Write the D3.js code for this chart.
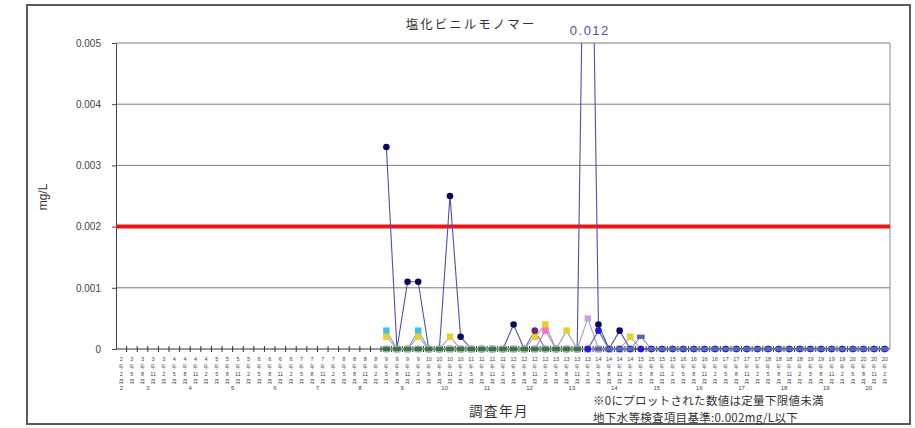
<!DOCTYPE html>
<html><head><meta charset="utf-8">
<script src="https://cdn.jsdelivr.net/npm/d3@7"></script>
<style>
html,body{margin:0;padding:0;background:#fff;}
svg{display:block;}
</style></head>
<body>
<svg id="chart" width="915" height="428"></svg>
<script>
// ---------- data ----------
const title = "塩化ビニルモノマー";
const yTitle = "mg/L";
const xTitle = "調査年月";
const note1 = "※0にプロットされた数値は定量下限値未満";
const note2 = "地下水等検査項目基準:0.002mg/L以下";
const peakLabel = "0.012";
const standardValue = 0.002;
const yTicks = [0, 0.001, 0.002, 0.003, 0.004, 0.005];

// survey years (group labels) and months per year
const surveyYears = ["2","3","4","5","6","7","8","9","10","11","12","13","14","15","16","17","18","19","20"];
const yearMonths = [["2"],["5","8","11","2"],["5","8","11","2"],["5","8","11","2"],["5","8","11","2"],["5","8","11","2"],["5","8","11","2"],["5","8","11","2"],["5","8","11","2"],["5","8","11","2"],["5","8","11","2"],["5","8","11","2"],["5","8","11","2"],["5","8","11","2"],["5","8","11","2"],["5","8","11","2"],["5","8","11","2"],["5","8","11","2"],["5","8","11","2"]];

// series values (null = not surveyed), 73 survey dates
const _ = null;
const wellA = [_,_,_,_,_,_,_,_,_,_, _,_,_,_,_,_,_,_,_,_, _,_,_,_,_,
  0.0033,0,0.0011,0.0011,0,0,0.0025,0.0002,0,0, 0,0,0.0004,0,0,0,0,0,0,0.012, 0.0004,0,0.0003,0,0,0,0,0,0,0, 0,0,0,0,0,0,0,0,0,0, 0,0,0,0,0,0,0,0];
const wellB = [_,_,_,_,_,_,_,_,_,_, _,_,_,_,_,_,_,_,_,_, _,_,_,_,_,
  0.0003,0,0,0.0003,0,0,0,0,0,0, 0,0,0,0,0,0,0,0,0,0, 0,0,0,0,_,_,_,_,_,_, _,_,_,_,_,_,_,_,_,_, _,_,_,_,_,_,_,_];
const wellC = [_,_,_,_,_,_,_,_,_,_, _,_,_,_,_,_,_,_,_,_, _,_,_,_,_,
  0.0002,0,0,0.0002,0,0,0.0002,0,0,0, 0,0,0,0,0.0002,0.0004,0,0.0003,0,0, 0,0,0,0.0002,0,_,_,_,_,_, _,_,_,_,_,_,_,_,_,_, _,_,_,_,_,_,_,_];
const wellD = [_,_,_,_,_,_,_,_,_,_, _,_,_,_,_,_,_,_,_,_, _,_,_,_,_,
  0,0,0,0,0,0,0,0,0,0, 0,0,0,0,0.0003,0,0,0,0,0, 0,_,_,_,_,_,_,_,_,_, _,_,_,_,_,_,_,_,_,_, _,_,_,_,_,_,_,_];
const wellE = [_,_,_,_,_,_,_,_,_,_, _,_,_,_,_,_,_,_,_,_, _,_,_,_,_,
  0,0,0,0,0,0,0,0,0,0, 0,0,0,0,0,0.0003,0,0,0,0, 0,_,_,_,_,_,_,_,_,_, _,_,_,_,_,_,_,_,_,_, _,_,_,_,_,_,_,_];
const wellF = [_,_,_,_,_,_,_,_,_,_, _,_,_,_,_,_,_,_,_,_, _,_,_,_,_,
  0,0,0,0,0,0,0,0,0,0, 0,0,0,0,0,0,0,0,0,0.0005, 0,0,0,_,_,_,_,_,_,_, _,_,_,_,_,_,_,_,_,_, _,_,_,_,_,_,_,_];
const wellG = [_,_,_,_,_,_,_,_,_,_, _,_,_,_,_,_,_,_,_,_, _,_,_,_,_,
  _,_,_,_,_,_,_,_,_,_, _,_,_,_,_,_,_,_,_,0, 0.0003,0,0,0,0,0,0,0,0,0, 0,0,0,0,0,0,0,0,0,0, 0,0,0,0,0,0,0,0];
const wellH = [_,_,_,_,_,_,_,_,_,_, _,_,_,_,_,_,_,_,_,_, _,_,_,_,_,
  0,0,0,0,0,0,0,0,0,0, 0,0,0,0,0,0,0,0,0,_, _,_,_,_,_,_,_,_,_,_, _,_,_,_,_,_,_,_,_,_, _,_,_,_,_,_,_,_];
const wellI = [_,_,_,_,_,_,_,_,_,_, _,_,_,_,_,_,_,_,_,_, _,_,_,_,_,
  _,_,_,_,_,_,_,_,_,_, _,_,_,_,_,_,_,_,_,_, 0,0,0,0,0.0002,0,0,0,0,0, 0,0,0,0,0,0,0,0,0,0, 0,0,0,0,0,0,0,0];

// ---------- build categories ----------
const categories = [];
const groups = [];
surveyYears.forEach((y, gi) => {
  const start = categories.length;
  yearMonths[gi].forEach(m => categories.push({key: y + "." + m, year: y, month: m}));
  groups.push({year: y, start, end: categories.length - 1});
});

const series = [
  {name: "A", values: wellA, color: "#0b0b5c", line: "#5050a6", shape: "circle"},
  {name: "B", values: wellB, color: "#3ec0f0", line: "#6aa0d8", shape: "square"},
  {name: "C", values: wellC, color: "#e9cf2c", line: "#9a9ac0", shape: "square"},
  {name: "D", values: wellD, color: "#7b1f7b", line: "#8a6aa8", shape: "circle"},
  {name: "E", values: wellE, color: "#ff6fc0", line: "#b08ac0", shape: "square"},
  {name: "F", values: wellF, color: "#c8a2ea", line: "#a89ad0", shape: "square"},
  {name: "G", values: wellG, color: "#1c1ce8", line: "#5a5ac8", shape: "circle"},
  {name: "H", values: wellH, color: "#2f7f3a", line: "#4fc04f", shape: "bar"},
  {name: "I", values: wellI, color: "#5668a8", line: "#7d8cc8", shape: "bar"}
];

// ---------- layout ----------
const svg = d3.select("#chart");
const L = 116, R = 890, T = 43, B = 349;

svg.append("rect").attr("x", 27).attr("y", 5).attr("width", 883).attr("height", 419)
  .attr("fill", "#fff").attr("stroke", "#5a5a5a").attr("stroke-width", 2);

const x = d3.scaleBand().domain(categories.map(d => d.key)).range([L, R]).paddingInner(0).paddingOuter(0);
const y = d3.scaleLinear().domain([0, 0.005]).range([B, T]);
const cx = i => x(categories[i].key) + x.bandwidth() / 2;

// gridlines
svg.append("g").selectAll("line").data(yTicks.filter(v => v > 0)).join("line")
  .attr("x1", L).attr("x2", R).attr("y1", d => y(d)).attr("y2", d => y(d))
  .attr("stroke", "#7a7a7a").attr("stroke-width", 1);
svg.append("line").attr("x1", R).attr("x2", R).attr("y1", T).attr("y2", B)
  .attr("stroke", "#8a8a8a").attr("stroke-width", 1);

// y axis
const yAxis = svg.append("g").attr("transform", `translate(${L},0)`)
  .call(d3.axisLeft(y).tickValues(yTicks).tickSize(4).tickSizeOuter(0)
    .tickFormat(d => d === 0 ? "0" : d3.format(".3f")(d)));
yAxis.select(".domain").attr("stroke", "#444");
yAxis.selectAll(".tick line").attr("stroke", "#444");
yAxis.selectAll("text").attr("font-family", "Liberation Sans, Arial, sans-serif")
  .attr("font-size", 10).attr("fill", "#444").attr("x", -15);

// standard line
svg.append("line").attr("x1", L).attr("x2", R).attr("y1", y(standardValue)).attr("y2", y(standardValue))
  .attr("stroke", "#ec1515").attr("stroke-width", 4);

// x axis line with cross ticks
svg.append("line").attr("x1", L).attr("x2", R).attr("y1", B).attr("y2", B).attr("stroke", "#333");
svg.append("g").selectAll("line").data(categories.slice(1)).join("line")
  .attr("x1", d => x(d.key)).attr("x2", d => x(d.key)).attr("y1", B - 3).attr("y2", B + 3)
  .attr("stroke", "#333").attr("stroke-width", 1);

// category labels: stacked rows (year / 年 / month / 月)
const labG = svg.append("g").attr("fill", "#444").attr("text-anchor", "middle");
const rowDefs = [
  {get: d => d.year, y: 361, font: "Liberation Sans, Arial, sans-serif", size: 5.5},
  {get: d => "年", y: 368.3, font: "Noto Sans CJK JP, sans-serif", size: 5},
  {get: d => d.month, y: 375.6, font: "Liberation Sans, Arial, sans-serif", size: 5.5},
  {get: d => "月", y: 382.9, font: "Noto Sans CJK JP, sans-serif", size: 5}
];
rowDefs.forEach(r => {
  labG.append("g").selectAll("text").data(categories).join("text")
    .attr("x", (d, i) => cx(i)).attr("y", r.y)
    .attr("font-family", r.font).attr("font-size", r.size)
    .text(r.get);
});

// group labels
svg.append("g").selectAll("text").data(groups).join("text")
  .attr("x", g => (cx(g.start) + cx(g.end)) / 2).attr("y", 390)
  .attr("text-anchor", "middle")
  .attr("font-family", "Liberation Sans, Arial, sans-serif").attr("font-size", 6)
  .attr("fill", "#444").text(g => g.year);

// clip
svg.append("clipPath").attr("id", "plotclip").append("rect")
  .attr("x", L - 6).attr("y", T).attr("width", R - L + 12).attr("height", B - T + 8);

const plot = svg.append("g").attr("clip-path", "url(#plotclip)");
const lineGen = d3.line().defined(d => d.v !== null).x(d => cx(d.i)).y(d => y(d.v));

series.forEach(s => {
  const pts = s.values.map((v, i) => ({i, v}));
  plot.append("path").datum(pts).attr("d", lineGen)
    .attr("fill", "none").attr("stroke", s.line).attr("stroke-width", 1.1);
});
series.forEach(s => {
  const pts = s.values.map((v, i) => ({i, v})).filter(d => d.v !== null);
  const g = plot.append("g");
  if (s.shape === "circle") {
    g.selectAll("circle").data(pts).join("circle")
      .attr("cx", d => cx(d.i)).attr("cy", d => y(d.v)).attr("r", 3.3).attr("fill", s.color);
  } else if (s.shape === "square") {
    g.selectAll("rect").data(pts).join("rect")
      .attr("x", d => cx(d.i) - 3.2).attr("y", d => y(d.v) - 3.2)
      .attr("width", 6.4).attr("height", 6.4).attr("fill", s.color);
  } else {
    g.selectAll("rect").data(pts).join("rect")
      .attr("x", d => cx(d.i) - 3.8).attr("y", d => y(d.v) - 2.2)
      .attr("width", 7.6).attr("height", 4.4).attr("fill", s.color);
  }
});

// peak label
const peakIdx = wellA.indexOf(d3.max(wellA));
svg.append("text").attr("x", cx(peakIdx) + 2).attr("y", 35).attr("text-anchor", "middle")
  .attr("font-family", "Liberation Sans, Arial, sans-serif").attr("font-size", 13)
  .attr("letter-spacing", 1.5).attr("fill", "#5050a8").text(peakLabel);

// title
svg.append("text").attr("x", 471).attr("y", 29).attr("text-anchor", "middle")
  .attr("font-family", "Noto Sans CJK JP, sans-serif").attr("font-size", 12.5)
  .attr("letter-spacing", 2).attr("fill", "#333").text(title);

// y title
svg.append("text").attr("transform", "translate(47,197) rotate(-90)").attr("text-anchor", "middle")
  .attr("font-family", "Liberation Sans, Arial, sans-serif").attr("font-size", 12)
  .attr("fill", "#333").text(yTitle);

// x title
svg.append("text").attr("x", 499).attr("y", 416).attr("text-anchor", "middle")
  .attr("font-family", "Noto Sans CJK JP, sans-serif").attr("font-size", 13.5)
  .attr("letter-spacing", 1.5).attr("fill", "#333").text(xTitle);

// notes
svg.append("text").attr("x", 593).attr("y", 405)
  .attr("font-family", "Noto Sans CJK JP, sans-serif").attr("font-size", 11.5)
  .attr("letter-spacing", 0.3).attr("fill", "#333").text(note1);
svg.append("text").attr("x", 593).attr("y", 422)
  .attr("font-family", "Noto Sans CJK JP, sans-serif").attr("font-size", 11.5)
  .attr("letter-spacing", 0.3).attr("fill", "#333").text(note2);
</script>
</body></html>
